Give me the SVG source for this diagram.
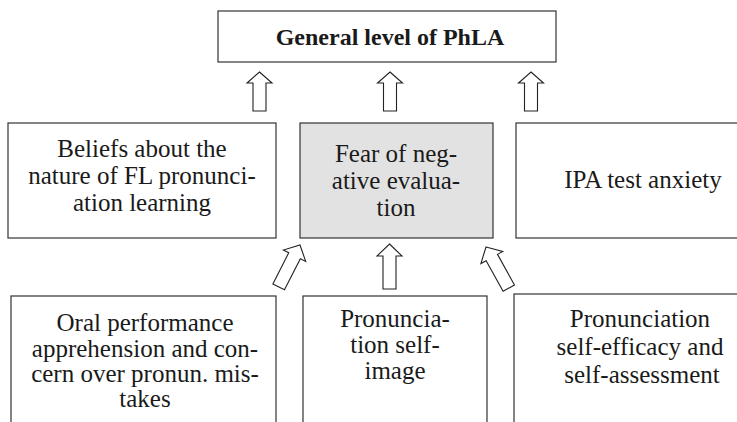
<svg xmlns="http://www.w3.org/2000/svg" width="737" height="422" viewBox="0 0 737 422">
<style>
.box{fill:#fff;stroke:#333;stroke-width:1.2}
.grey{fill:#e2e2e2}
.arr{fill:#fff;stroke:#222;stroke-width:1.1;stroke-linejoin:miter}
text{font-family:"Liberation Serif","Times New Roman",serif;font-size:25px;fill:#1a1a1a;text-anchor:middle}
.bold{font-weight:bold;font-size:24px}
</style>
<defs>
<path id="a39" d="M0,0 L12.5,11 L6.5,11 L6.5,39 L-6.5,39 L-6.5,11 L-12.5,11 Z"/>
<path id="a45" d="M0,0 L12.5,12 L6.5,12 L6.5,45 L-6.5,45 L-6.5,12 L-12.5,12 Z"/>
<path id="a48" d="M0,0 L12.5,12 L6.5,12 L6.5,47 L-6.5,47 L-6.5,12 L-12.5,12 Z"/>
</defs>

<g id="general">
<rect class="box" x="218" y="11" width="338" height="51"/>
<text class="bold" x="390" y="45">General level of PhLA</text>
</g>

<g id="beliefs">
<rect class="box" x="8" y="123" width="268" height="115"/>
<text x="142" y="157">Beliefs about the</text>
<text x="142" y="184">nature of FL pronunci-</text>
<text x="142" y="211">ation learning</text>
</g>

<g id="fear">
<rect class="box grey" x="300" y="123" width="193" height="115"/>
<text x="396" y="162">Fear of neg-</text>
<text x="396" y="189">ative evalua-</text>
<text x="396" y="216">tion</text>
</g>

<g id="ipa">
<rect class="box" x="516" y="123" width="260" height="115"/>
<text x="643" y="188">IPA test anxiety</text>
</g>

<g id="oral">
<rect class="box" x="11" y="296" width="265" height="140"/>
<text x="145" y="331">Oral performance</text>
<text x="145" y="357">apprehension and con-</text>
<text x="145" y="382">cern over pronun. mis-</text>
<text x="145" y="407">takes</text>
</g>

<g id="selfimage">
<rect class="box" x="303" y="296" width="184" height="140"/>
<text x="395" y="327">Pronuncia-</text>
<text x="395" y="353">tion self-</text>
<text x="395" y="379">image</text>
</g>

<g id="selfefficacy">
<rect class="box" x="514" y="294" width="260" height="140"/>
<text x="640" y="327">Pronunciation</text>
<text x="640" y="355">self-efficacy and</text>
<text x="642" y="383">self-assessment</text>
</g>

<g id="connectors">
<use href="#a39" class="arr" transform="translate(259.5,72)"/>
<use href="#a39" class="arr" transform="translate(390,72)"/>
<use href="#a39" class="arr" transform="translate(531,72)"/>
<use href="#a45" class="arr" transform="translate(389.5,244)"/>
<use href="#a48" class="arr" transform="translate(300,245) rotate(27)"/>
<use href="#a48" class="arr" transform="translate(486,247) rotate(-29)"/>
</g>
</svg>
